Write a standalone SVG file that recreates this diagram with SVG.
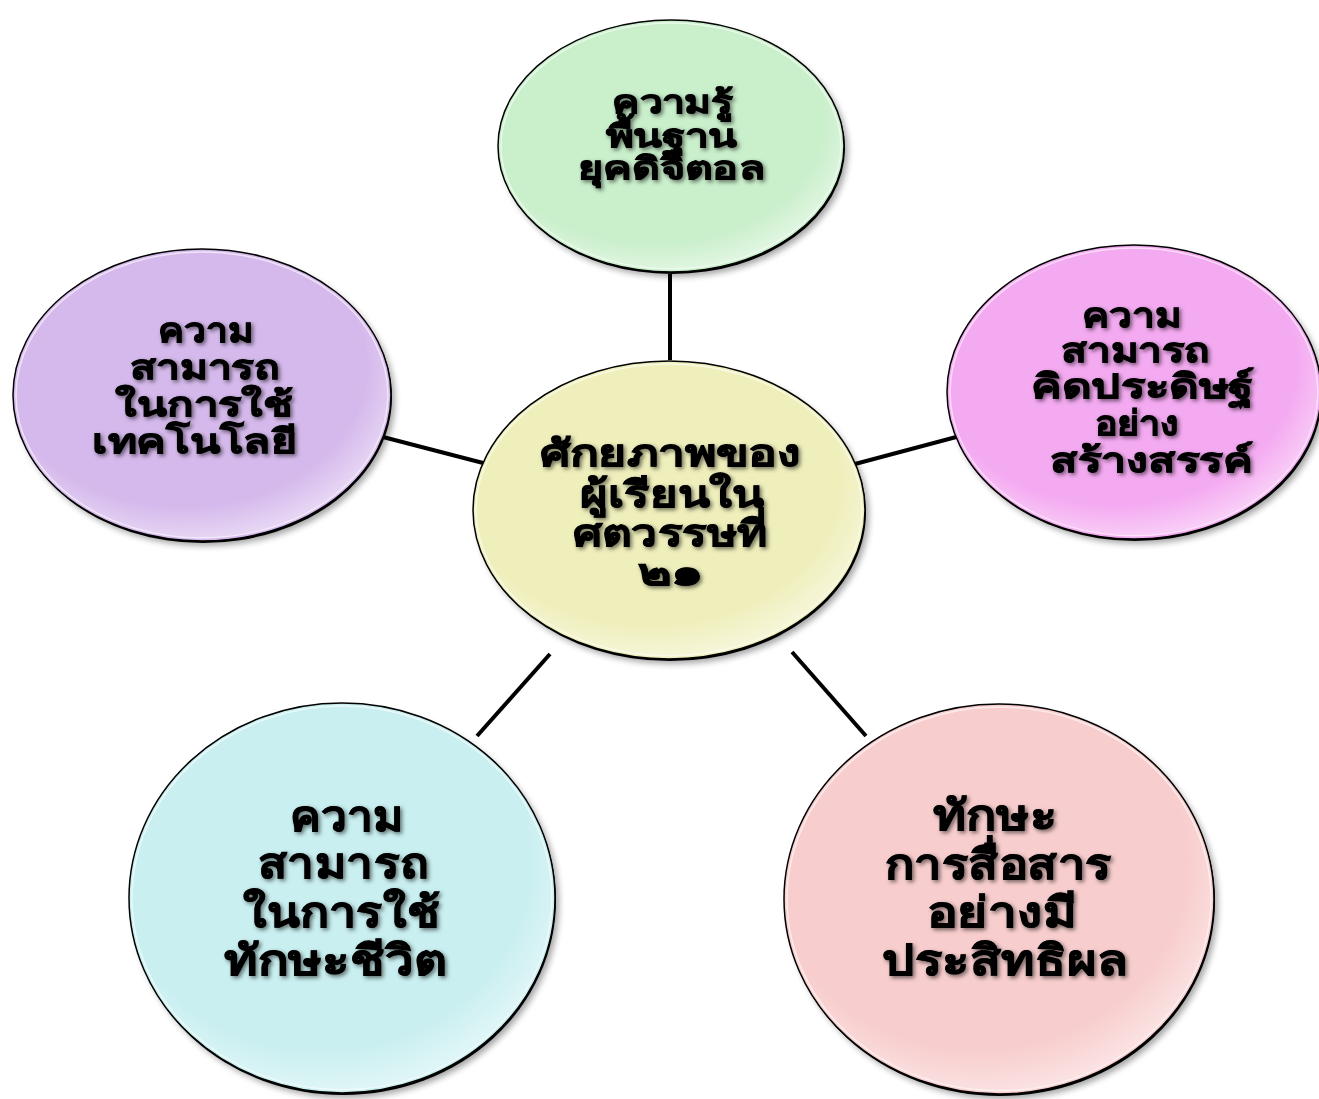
<svg xmlns="http://www.w3.org/2000/svg" width="1319" height="1099" viewBox="0 0 1319 1099">
<defs>
<filter id="sh" x="-10%" y="-10%" width="125%" height="125%">
<feGaussianBlur stdDeviation="3"/>
</filter>
<filter id="tsh" x="-10%" y="-30%" width="130%" height="170%">
<feDropShadow dx="2" dy="2" stdDeviation="2" flood-color="#000" flood-opacity="0.55"/>
</filter>
<radialGradient id="gloss" cx="0.45" cy="0.4" r="0.6">
<stop offset="0.82" stop-color="#fff" stop-opacity="0"/>
<stop offset="1" stop-color="#fff" stop-opacity="0.4"/>
</radialGradient>
</defs>
<style>
.node .s{fill:#000;opacity:0.35;filter:url(#sh)}
.node .d{fill:#000}
.node .b{stroke:#000;stroke-width:1.5}
.node .g{fill:url(#gloss);stroke:#fff;stroke-opacity:0.6;stroke-width:1.5}
.lbl{font-family:"Noto Sans","DejaVu Sans",sans-serif;font-weight:bold;fill:#000;stroke:#000;stroke-width:0.8;filter:url(#tsh)}
.con line{stroke:#000;stroke-width:4}
</style>
<rect width="1319" height="1099" fill="#fff"/>
<g id="connectors" class="con">
<line x1="670" y1="274" x2="670" y2="360"/>
<line x1="383" y1="437" x2="487" y2="464"/>
<line x1="855" y1="464" x2="960" y2="436"/>
<line x1="550" y1="654" x2="477" y2="736"/>
<line x1="792" y1="652" x2="866" y2="736"/>
</g>
<g id="n-top" class="node">
<ellipse class="s" cx="675" cy="151" rx="173" ry="126"/>
<ellipse class="d" cx="672" cy="148" rx="173" ry="126"/>
<ellipse class="b" cx="671" cy="146" rx="173" ry="126" fill="#c9efcb"/>
<ellipse class="g" cx="671" cy="146" rx="170" ry="123"/>
<text class="lbl" font-size="31" lengthAdjust="spacingAndGlyphs" x="612" y="113" textLength="121">ความรู้</text>
<text class="lbl" font-size="31" lengthAdjust="spacingAndGlyphs" x="606" y="147" textLength="131">พื้นฐาน</text>
<text class="lbl" font-size="31" lengthAdjust="spacingAndGlyphs" x="578" y="179" textLength="187">ยุคดิจิตอล</text>
</g>
<g id="n-left" class="node">
<ellipse class="s" cx="206" cy="400" rx="189" ry="146"/>
<ellipse class="d" cx="203" cy="397" rx="189" ry="146"/>
<ellipse class="b" cx="202" cy="395" rx="189" ry="146" fill="#d5b9ec"/>
<ellipse class="g" cx="202" cy="395" rx="186" ry="143"/>
<text class="lbl" font-size="34" lengthAdjust="spacingAndGlyphs" x="158" y="342" textLength="95">ความ</text>
<text class="lbl" font-size="34" lengthAdjust="spacingAndGlyphs" x="130" y="379" textLength="150">สามารถ</text>
<text class="lbl" font-size="34" lengthAdjust="spacingAndGlyphs" x="115" y="416" textLength="178">ในการใช้</text>
<text class="lbl" font-size="34" lengthAdjust="spacingAndGlyphs" x="92" y="453" textLength="205">เทคโนโลยี</text>
</g>
<g id="n-right" class="node">
<ellipse class="s" cx="1138" cy="397" rx="187" ry="147"/>
<ellipse class="d" cx="1135" cy="394" rx="187" ry="147"/>
<ellipse class="b" cx="1134" cy="392" rx="187" ry="147" fill="#f4aaf1"/>
<ellipse class="g" cx="1134" cy="392" rx="184" ry="144"/>
<text class="lbl" font-size="34" lengthAdjust="spacingAndGlyphs" x="1082" y="327" textLength="99">ความ</text>
<text class="lbl" font-size="34" lengthAdjust="spacingAndGlyphs" x="1061" y="362" textLength="149">สามารถ</text>
<text class="lbl" font-size="34" lengthAdjust="spacingAndGlyphs" x="1031" y="398" textLength="223">คิดประดิษฐ์</text>
<text class="lbl" font-size="34" lengthAdjust="spacingAndGlyphs" x="1095" y="435" textLength="84">อย่าง</text>
<text class="lbl" font-size="34" lengthAdjust="spacingAndGlyphs" x="1050" y="472" textLength="203">สร้างสรรค์</text>
</g>
<g id="n-center" class="node">
<ellipse class="s" cx="673" cy="515" rx="196" ry="149"/>
<ellipse class="d" cx="670" cy="512" rx="196" ry="149"/>
<ellipse class="b" cx="669" cy="510" rx="196" ry="149" fill="#efefbc"/>
<ellipse class="g" cx="669" cy="510" rx="193" ry="146"/>
<text class="lbl" font-size="37" lengthAdjust="spacingAndGlyphs" x="540" y="466" textLength="260">ศักยภาพของ</text>
<text class="lbl" font-size="37" lengthAdjust="spacingAndGlyphs" x="580" y="507" textLength="184">ผู้เรียนใน</text>
<text class="lbl" font-size="37" lengthAdjust="spacingAndGlyphs" x="573" y="546" textLength="194">ศตวรรษที่</text>
<text class="lbl" font-size="37" lengthAdjust="spacingAndGlyphs" x="638" y="585" textLength="65">๒๑</text>
</g>
<g id="n-bl" class="node">
<ellipse class="s" cx="346" cy="903" rx="213" ry="195"/>
<ellipse class="d" cx="343" cy="900" rx="213" ry="195"/>
<ellipse class="b" cx="342" cy="898" rx="213" ry="195" fill="#c9eff0"/>
<ellipse class="g" cx="342" cy="898" rx="210" ry="192"/>
<text class="lbl" font-size="42" lengthAdjust="spacingAndGlyphs" x="290" y="831" textLength="114">ความ</text>
<text class="lbl" font-size="42" lengthAdjust="spacingAndGlyphs" x="258" y="878" textLength="170">สามารถ</text>
<text class="lbl" font-size="42" lengthAdjust="spacingAndGlyphs" x="243" y="927" textLength="197">ในการใช้</text>
<text class="lbl" font-size="42" lengthAdjust="spacingAndGlyphs" x="224" y="975" textLength="223">ทักษะชีวิต</text>
</g>
<g id="n-br" class="node">
<ellipse class="s" cx="1003" cy="904" rx="215" ry="195"/>
<ellipse class="d" cx="1000" cy="901" rx="215" ry="195"/>
<ellipse class="b" cx="999" cy="899" rx="215" ry="195" fill="#f8cdcd"/>
<ellipse class="g" cx="999" cy="899" rx="212" ry="192"/>
<text class="lbl" font-size="42" lengthAdjust="spacingAndGlyphs" x="933" y="830" textLength="124">ทักษะ</text>
<text class="lbl" font-size="42" lengthAdjust="spacingAndGlyphs" x="885" y="879" textLength="227">การสื่อสาร</text>
<text class="lbl" font-size="42" lengthAdjust="spacingAndGlyphs" x="927" y="927" textLength="150">อย่างมี</text>
<text class="lbl" font-size="42" lengthAdjust="spacingAndGlyphs" x="882" y="975" textLength="246">ประสิทธิผล</text>
</g>
</svg>
